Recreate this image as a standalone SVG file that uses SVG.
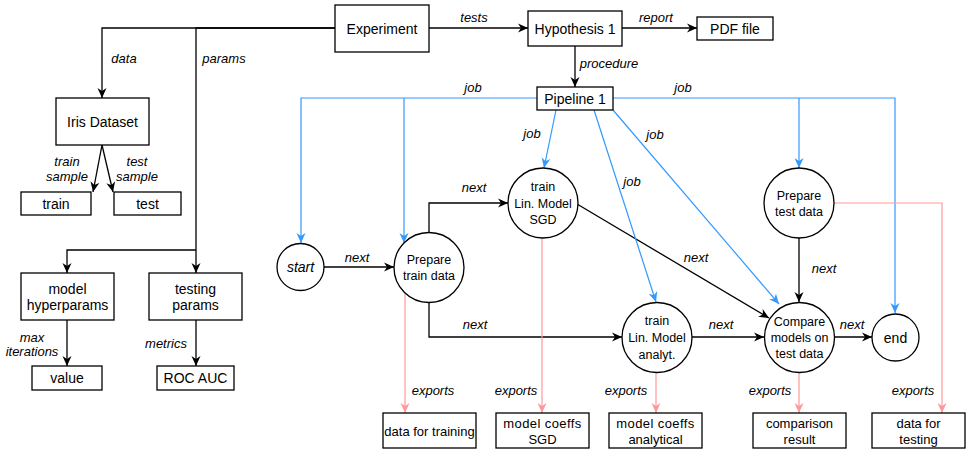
<svg xmlns="http://www.w3.org/2000/svg" width="966" height="451" viewBox="0 0 966 451">
<style>
.box{fill:#fff;stroke:#000;stroke-width:1.3}
text{font-family:"Liberation Sans",Arial,sans-serif;fill:#000;text-anchor:middle;dominant-baseline:central}
.t14{font-size:14px}
.t13{font-size:13px}
.t12{font-size:12.5px}
.lbl{font-size:13px;font-style:italic}
.k{fill:none;stroke:#000;stroke-width:1.3;marker-end:url(#ak)}
.b{fill:none;stroke:#3399ff;stroke-width:1.2;marker-end:url(#ab)}
.p{fill:none;stroke:#ff9999;stroke-width:1.2;marker-end:url(#ap)}
</style>
<defs>
<marker id="ak" markerUnits="userSpaceOnUse" markerWidth="11" markerHeight="10" refX="10" refY="5" orient="auto" viewBox="0 0 11 10"><path d="M0,0.5 L10,5 L0,9.5 L3,5 Z" fill="#000"/></marker>
<marker id="ab" markerUnits="userSpaceOnUse" markerWidth="11" markerHeight="10" refX="10" refY="5" orient="auto" viewBox="0 0 11 10"><path d="M0,0.5 L10,5 L0,9.5 L3,5 Z" fill="#3399ff"/></marker>
<marker id="ap" markerUnits="userSpaceOnUse" markerWidth="11" markerHeight="10" refX="10" refY="5" orient="auto" viewBox="0 0 11 10"><path d="M0,0.5 L10,5 L0,9.5 L3,5 Z" fill="#ff9999"/></marker>
</defs>

<g id="connectors">
<path class="k" d="M429,28 L528,28"/>
<path class="k" d="M622,28 L697,28"/>
<path class="k" d="M575,46 L575,87"/>
<path class="k" d="M335,28 L102,28 L102,98"/>
<path class="k" d="M335,28 L196,28 L196,273"/>
<path class="k" d="M196,250 L67,250 L67,273"/>
<path class="k" d="M102,145 L93,192"/>
<path class="k" d="M102,145 L113,192"/>
<path class="k" d="M67,320 L67,366"/>
<path class="k" d="M196,320 L196,366"/>
<path class="k" d="M324,267 L394,267"/>
<path class="k" d="M429,232 L429,203 L508,203"/>
<path class="k" d="M429,303 L429,337 L622,337"/>
<path class="k" d="M577,204 L769,318"/>
<path class="k" d="M692,337 L764,337"/>
<path class="k" d="M799,238 L799,302"/>
<path class="k" d="M835,337 L872,337"/>
<path class="b" d="M537,98 L301,98 L301,243"/>
<path class="b" d="M404,98 L404,243"/>
<path class="b" d="M556,110 L544,168"/>
<path class="b" d="M594,110 L656,302"/>
<path class="b" d="M613,110 L779,304"/>
<path class="b" d="M613,98 L895,98 L895,313"/>
<path class="b" d="M799,98 L799,168"/>
<path class="p" d="M405,293 L405,413"/>
<path class="p" d="M542,238 L542,413"/>
<path class="p" d="M656,372 L656,413"/>
<path class="p" d="M799,372 L799,413"/>
<path class="p" d="M834,203 L942,203 L942,413"/>
</g>

<g id="edge-labels">
<text class="lbl" x="474" y="17">tests</text>
<text class="lbl" x="656" y="17">report</text>
<text class="lbl" x="609" y="63">procedure</text>
<text class="lbl" x="124" y="58">data</text>
<text class="lbl" x="224" y="58">params</text>
<text class="lbl" x="67" y="161">train</text>
<text class="lbl" x="67" y="176">sample</text>
<text class="lbl" x="137" y="161">test</text>
<text class="lbl" x="137" y="176">sample</text>
<text class="lbl" x="32" y="337">max</text>
<text class="lbl" x="32" y="351">iterations</text>
<text class="lbl" x="166" y="343">metrics</text>
<text class="lbl" x="473" y="87">job</text>
<text class="lbl" x="683" y="87">job</text>
<text class="lbl" x="532" y="133">job</text>
<text class="lbl" x="632" y="181">job</text>
<text class="lbl" x="655" y="134">job</text>
<text class="lbl" x="357" y="257">next</text>
<text class="lbl" x="474" y="187">next</text>
<text class="lbl" x="696" y="257">next</text>
<text class="lbl" x="824" y="268">next</text>
<text class="lbl" x="475" y="324">next</text>
<text class="lbl" x="721" y="324">next</text>
<text class="lbl" x="852" y="324">next</text>
<text class="lbl" x="433" y="390">exports</text>
<text class="lbl" x="516" y="390">exports</text>
<text class="lbl" x="626" y="390">exports</text>
<text class="lbl" x="770" y="390">exports</text>
<text class="lbl" x="913" y="390">exports</text>
</g>

<g id="experiment"><rect class="box" x="335" y="5" width="94" height="47"/><text class="t14" x="382" y="28.5">Experiment</text></g>
<g id="hypothesis1"><rect class="box" x="528" y="11" width="94" height="35"/><text class="t14" x="575" y="28.5">Hypothesis 1</text></g>
<g id="pdf-file"><rect class="box" x="697" y="17" width="76" height="23"/><text class="t14" x="735" y="28.5">PDF file</text></g>
<g id="pipeline1"><rect class="box" x="537" y="87" width="76" height="23"/><text class="t14" x="575" y="98.5">Pipeline 1</text></g>

<g id="iris-dataset"><rect class="box" x="56" y="98" width="93" height="47"/><text class="t14" x="102.5" y="121.5">Iris Dataset</text></g>
<g id="train"><rect class="box" x="21" y="192" width="70" height="23"/><text class="t14" x="56" y="203.5">train</text></g>
<g id="test"><rect class="box" x="114" y="192" width="67" height="23"/><text class="t14" x="147.5" y="203.5">test</text></g>
<g id="model-hyperparams"><rect class="box" x="21" y="273" width="93" height="47"/><text class="t14" x="67.5" y="289">model</text><text class="t14" x="67.5" y="305">hyperparams</text></g>
<g id="testing-params"><rect class="box" x="149" y="273" width="93" height="47"/><text class="t14" x="195.5" y="289">testing</text><text class="t14" x="195.5" y="305">params</text></g>
<g id="value"><rect class="box" x="32" y="366" width="70" height="24"/><text class="t14" x="67" y="378">value</text></g>
<g id="roc-auc"><rect class="box" x="157" y="366" width="77" height="24"/><text class="t14" x="195.5" y="378">ROC AUC</text></g>

<g id="start"><circle class="box" cx="300.5" cy="267" r="23.5"/><text class="t14" x="300.5" y="267" font-style="italic">start</text></g>
<g id="prepare-train"><circle class="box" cx="429" cy="267.5" r="35"/><text class="t12" x="429" y="259.5">Prepare</text><text class="t12" x="429" y="275.5">train data</text></g>
<g id="train-sgd"><circle class="box" cx="543" cy="203" r="35"/><text class="t12" x="543" y="187">train</text><text class="t12" x="543" y="203.5">Lin. Model</text><text class="t12" x="543" y="220">SGD</text></g>
<g id="prepare-test"><circle class="box" cx="799" cy="203" r="35"/><text class="t12" x="799" y="196">Prepare</text><text class="t12" x="799" y="212">test data</text></g>
<g id="train-analyt"><circle class="box" cx="657" cy="337.5" r="35"/><text class="t12" x="657" y="321">train</text><text class="t12" x="657" y="338">Lin. Model</text><text class="t12" x="657" y="355">analyt.</text></g>
<g id="compare"><circle class="box" cx="799.5" cy="337.5" r="35"/><text class="t12" x="799.5" y="322">Compare</text><text class="t12" x="799.5" y="338">models on</text><text class="t12" x="799.5" y="354">test data</text></g>
<g id="end"><circle class="box" cx="895.5" cy="337.5" r="23.5"/><text class="t14" x="895.5" y="337.5">end</text></g>

<g id="data-for-training"><rect class="box" x="383" y="413" width="93" height="35"/><text class="t13" x="429.5" y="431">data for training</text></g>
<g id="coeffs-sgd"><rect class="box" x="496" y="413" width="93" height="35"/><text class="t13" x="542.5" y="423" letter-spacing="0.4">model coeffs</text><text class="t13" x="542.5" y="439">SGD</text></g>
<g id="coeffs-analytical"><rect class="box" x="609" y="413" width="93" height="35"/><text class="t13" x="655.5" y="423" letter-spacing="0.4">model coeffs</text><text class="t13" x="655.5" y="439">analytical</text></g>
<g id="comparison-result"><rect class="box" x="753" y="413" width="93" height="35"/><text class="t13" x="799.5" y="423">comparison</text><text class="t13" x="799.5" y="439">result</text></g>
<g id="data-for-testing"><rect class="box" x="872" y="413" width="93" height="35"/><text class="t13" x="918.5" y="423">data for</text><text class="t13" x="918.5" y="439">testing</text></g>
</svg>
